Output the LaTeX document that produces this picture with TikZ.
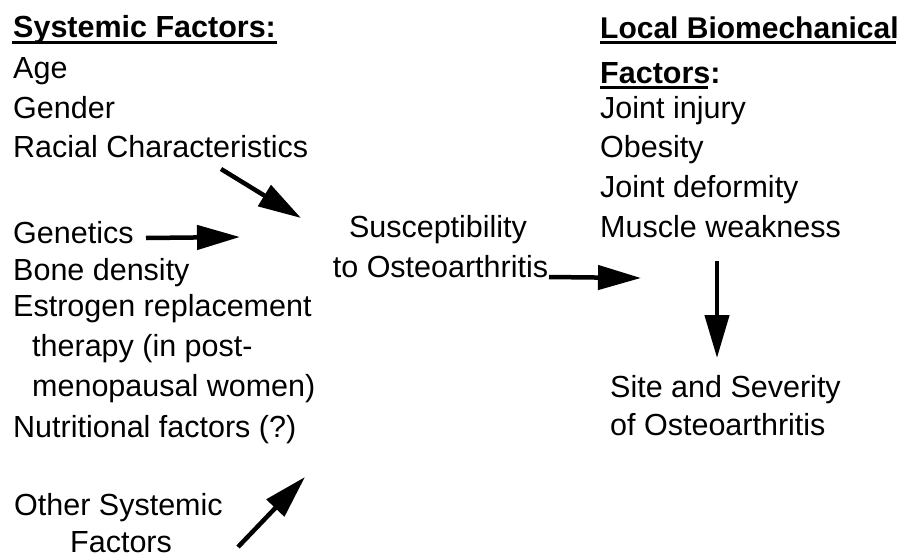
\documentclass[tikz,border=0pt]{standalone}
\usepackage{fontspec}
\setmainfont{Liberation Sans}
\usetikzlibrary{arrows.meta}
\begin{document}
\begin{tikzpicture}[x=1pt,y=-1pt,
  txt/.style={anchor=base west,inner sep=0pt,font=\fontsize{30.5}{36}\selectfont},
  txtc/.style={anchor=base,inner sep=0pt,font=\fontsize{30.5}{36}\selectfont},
  hdr/.style={txt,font=\fontsize{30.5}{36}\selectfont\bfseries},
  uline/.style={line width=2.4pt},
  arr/.style={line width=4.5pt,-{Triangle[length=43pt,width=24pt]}}]
\useasboundingbox[fill=white] (0,0) rectangle (901,557);
% left column
\node[hdr] (sys) at (13,37) {Systemic Factors:};
\draw[uline] (12,42.5) -- (277,42.5);
\node[txt] (age) at (13,78) {Age};
\node[txt] (gen) at (13,118) {Gender};
\node[txt] (rac) at (13,157) {Racial Characteristics};
\node[txt] (gene) at (13,243) {Genetics};
\node[txt] (bone) at (13,280) {Bone density};
\node[txt] (est) at (13,316) {Estrogen replacement};
\node[txt] (ther) at (32,356) {therapy (in post-};
\node[txt] (meno) at (32,396) {menopausal women)};
\node[txt] (nut) at (13,437) {Nutritional factors (?)};
\node[txt] (oth) at (14,515) {Other Systemic};
\node[txt,text depth=0pt] (othf) at (70,552) {Factors};
% centre
\node[txtc] (sus1) at (438,237) {Susceptibility};
\node[txtc] (sus2) at (440.5,277) {to Osteoarthritis};
% right column
\node[hdr,font=\fontsize{30}{36}\selectfont\bfseries] (loc) at (600,38) {Local Biomechanical};
\draw[uline] (600,42.5) -- (896,42.5);
\node[hdr] (locf) at (600,83) {Factors:};
\draw[uline] (600,87.5) -- (708,87.5);
\node[txt] (inj) at (600,118) {Joint injury};
\node[txt] (obe) at (600,157) {Obesity};
\node[txt] (def) at (600,197) {Joint deformity};
\node[txt] (mus) at (600,237) {Muscle weakness};
\node[txt] (site1) at (610,397) {Site and Severity};
\node[txt] (site2) at (610,435) {of Osteoarthritis};
% arrows
\coordinate (r1) at (221,169); \coordinate (r2) at (301,218);
\coordinate (g1) at (146,238); \coordinate (g2) at (240,237);
\coordinate (o1) at (238,547); \coordinate (o2) at (305,477);
\coordinate (s1) at (549,277); \coordinate (s2) at (641,278);
\coordinate (d1) at (717,261); \coordinate (d2) at (717,358);
\draw[arr] (r1) -- (r2);
\draw[arr] (g1) -- (g2);
\draw[arr] (o1) -- (o2);
\draw[arr] (s1) -- (s2);
\draw[arr] (d1) -- (d2);
\end{tikzpicture}
\end{document}
